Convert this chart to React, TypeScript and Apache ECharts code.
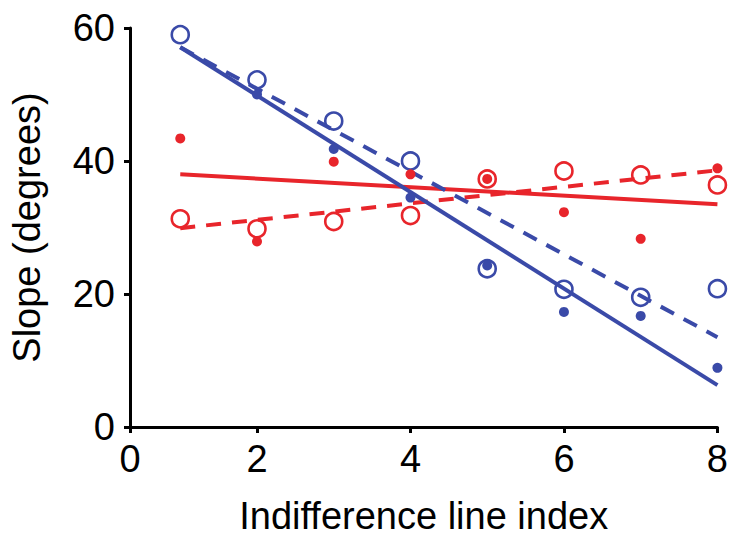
import React, { useEffect, useRef } from "react";
import * as echarts from "echarts";

// Indifference line index (x) for every measured point
const lineIndex = [1, 2, 3, 4, 5, 6, 7, 8];

// Slope in degrees, four conditions
const blueFilled = [60.3, 50.0, 41.8, 34.5, 24.3, 17.3, 16.7, 8.9];
const blueOpen = [59.0, 52.2, 46.0, 40.0, 23.8, 20.7, 19.5, 20.8];
const redFilled = [43.4, 27.9, 39.9, 38.0, 37.3, 32.3, 28.3, 38.9];
const redOpen = [31.3, 29.8, 30.9, 31.8, 37.3, 38.5, 37.9, 36.4];

// Linear fit lines: value at first and last index
const fitIndex = [1, 8];
const blueFilledFit = [57.1, 6.3];
const blueOpenFit = [57.1, 13.5];
const redFilledFit = [38.0, 33.5];
const redOpenFit = [29.9, 38.6];

// Axis ticks (the x axis starts a little after zero but is labelled 0)
const xTickValues = [0.345, 2, 4, 6, 8];
const xTickLabels = ["0", "2", "4", "6", "8"];
const yTickValues = [0, 20, 40, 60];

const BLUE = "#3a4aa8";
const RED = "#e8252b";
const FONT = "'Liberation Sans', Arial, Helvetica, sans-serif";

const pairs = (xs: number[], ys: number[]) => xs.map((x, i) => [x, ys[i]]);

export default function App() {
  const ref = useRef<HTMLDivElement>(null);

  useEffect(() => {
    if (!ref.current) return;
    const chart = echarts.init(ref.current, null, { renderer: "svg" });

    const filled = (name: string, color: string, ys: number[]) => ({
      name,
      type: "scatter",
      data: pairs(lineIndex, ys),
      symbol: "circle",
      symbolSize: 10,
      itemStyle: { color, opacity: 1 },
      z: 4,
    });
    const open = (name: string, color: string, ys: number[]) => ({
      name,
      type: "scatter",
      data: pairs(lineIndex, ys),
      symbol: "circle",
      symbolSize: 17,
      itemStyle: {
        color: "rgba(0,0,0,0)",
        borderColor: color,
        borderWidth: 2.6,
        opacity: 1,
      },
      z: 3,
    });
    const fit = (name: string, color: string, ys: number[], dashed: boolean) => ({
      name,
      type: "line",
      data: pairs(fitIndex, ys),
      showSymbol: false,
      symbol: "none",
      lineStyle: {
        color,
        width: 4,
        type: dashed ? [15, 11] : "solid",
        cap: "butt",
      },
      z: 2,
    });

    chart.setOption({
      animation: false,
      backgroundColor: "#ffffff",
      grid: { left: 124, right: 13, top: 28, bottom: 111.5, containLabel: false },
      xAxis: {
        type: "value",
        min: xTickValues[0],
        max: 8,
        name: "Indifference line index",
        nameLocation: "middle",
        nameGap: 70,
        nameTextStyle: { fontFamily: FONT, fontSize: 38, color: "#000" },
        axisLine: { show: true, onZero: false, lineStyle: { color: "#000", width: 3 } },
        axisTick: {
          show: true,
          length: 6,
          customValues: xTickValues,
          lineStyle: { color: "#000", width: 3 },
        },
        axisLabel: {
          customValues: xTickValues,
          margin: 13,
          fontFamily: FONT,
          fontSize: 38,
          color: "#000",
          formatter: (v: number) => {
            let best = 0;
            xTickValues.forEach((t, i) => {
              if (Math.abs(t - v) < Math.abs(xTickValues[best] - v)) best = i;
            });
            return xTickLabels[best];
          },
        },
        splitLine: { show: false },
      },
      yAxis: {
        type: "value",
        min: 0,
        max: 60,
        interval: 20,
        name: "Slope (degrees)",
        nameLocation: "middle",
        nameGap: 84,
        nameTextStyle: { fontFamily: FONT, fontSize: 38, color: "#000" },
        axisLine: { show: true, lineStyle: { color: "#000", width: 3 } },
        axisTick: {
          show: true,
          length: 6,
          customValues: yTickValues,
          lineStyle: { color: "#000", width: 3 },
        },
        axisLabel: {
          customValues: yTickValues,
          margin: 15,
          fontFamily: FONT,
          fontSize: 38,
          color: "#000",
        },
        splitLine: { show: false },
      },
      series: [
        fit("red filled fit", RED, redFilledFit, false),
        fit("red open fit", RED, redOpenFit, true),
        fit("blue filled fit", BLUE, blueFilledFit, false),
        fit("blue open fit", BLUE, blueOpenFit, true),
        open("red open", RED, redOpen),
        open("blue open", BLUE, blueOpen),
        filled("red filled", RED, redFilled),
        filled("blue filled", BLUE, blueFilled),
      ],
    });

    return () => chart.dispose();
  }, []);

  return (
    <div
      ref={ref}
      style={{ position: "absolute", left: 0, top: 0, width: 731, height: 540 }}
    />
  );
}
